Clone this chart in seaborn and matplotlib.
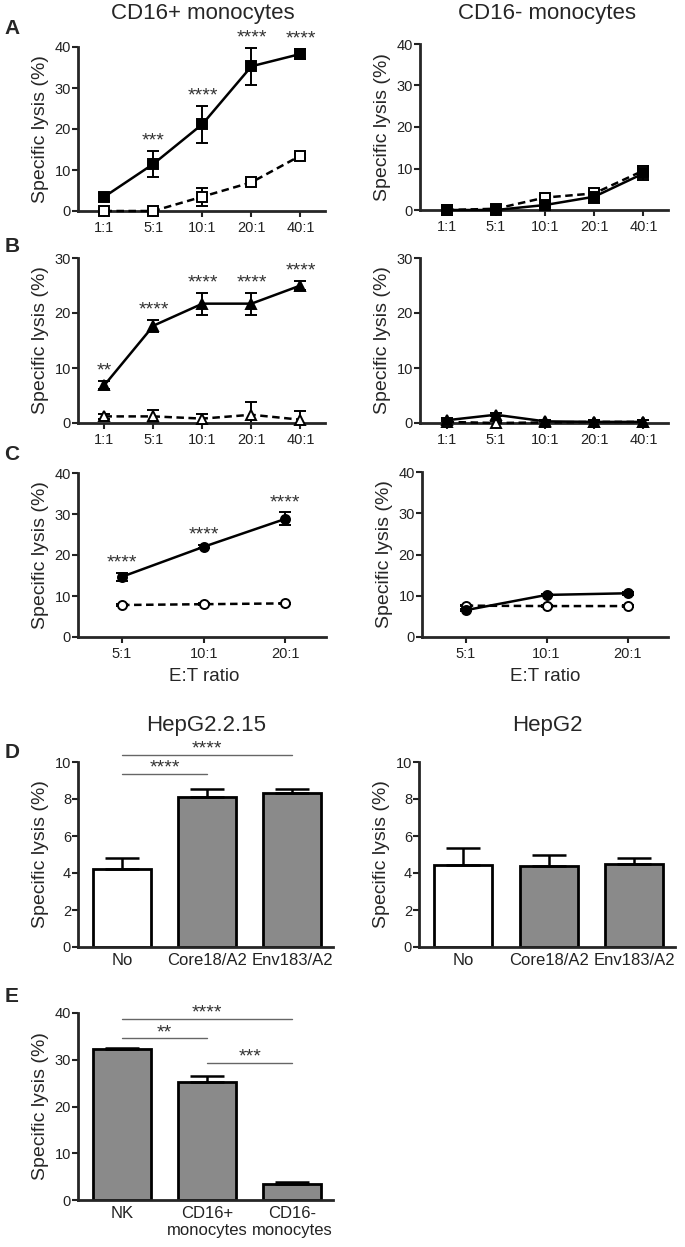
import numpy as np
import matplotlib
matplotlib.use("Agg")
import matplotlib.pyplot as plt
import seaborn as sns

# x categories
ratios_ab = ["1:1", "5:1", "10:1", "20:1", "40:1"]
ratios_c = ["5:1", "10:1", "20:1"]

# panel A (squares)
a_pos_mean = [3.5, 11.5, 21.2, 35.3, 38.3]
a_pos_err = [1.0, 3.2, 4.5, 4.5, 1.2]
a_pos_ctrl_mean = [0.0, 0.0, 3.5, 7.0, 13.5]
a_pos_ctrl_err = [0.3, 0.3, 2.2, 0.5, 0.5]
a_pos_stars = ["", "***", "****", "****", "****"]
a_neg_mean = [0.0, 0.0, 1.2, 3.2, 8.8]
a_neg_err = [0.5, 0.3, 0.5, 1.5, 1.5]
a_neg_ctrl_mean = [0.0, 0.3, 3.0, 4.0, 9.5]
a_neg_ctrl_err = [0.3, 0.3, 0.5, 0.8, 1.0]

# panel B (triangles)
b_pos_mean = [6.9, 17.7, 21.7, 21.7, 25.0]
b_pos_err = [0.8, 1.1, 2.0, 2.0, 0.8]
b_pos_ctrl_mean = [1.2, 1.2, 0.8, 1.5, 0.6]
b_pos_ctrl_err = [0.5, 1.1, 0.9, 2.3, 1.5]
b_pos_stars = ["**", "****", "****", "****", "****"]
b_neg_mean = [0.5, 1.5, 0.3, 0.2, 0.2]
b_neg_err = [0.4, 0.3, 0.3, 0.3, 0.3]
b_neg_ctrl_mean = [0.2, 0.0, 0.1, 0.2, 0.2]
b_neg_ctrl_err = [0.3, 0.3, 0.3, 0.3, 0.3]

# panel C (circles)
c_pos_mean = [14.7, 22.0, 28.8]
c_pos_err = [1.0, 0.4, 1.6]
c_pos_ctrl_mean = [7.8, 8.0, 8.2]
c_pos_ctrl_err = [0.2, 0.2, 0.2]
c_pos_stars = ["****", "****", "****"]
c_neg_mean = [6.5, 10.2, 10.6]
c_neg_err = [0.3, 0.3, 0.3]
c_neg_ctrl_mean = [7.6, 7.5, 7.5]
c_neg_ctrl_err = [0.2, 0.2, 0.2]

# panel D
peptides = ["No", "Core18/A2", "Env183/A2"]
d_hbv_mean = [4.2, 8.1, 8.35]
d_hbv_err = [0.6, 0.45, 0.2]
d_hbv_comps = [(0, 1, 9.35, "****"), (0, 2, 10.4, "****")]
d_ctrl_mean = [4.45, 4.4, 4.5]
d_ctrl_err = [0.9, 0.6, 0.3]

# panel E
effectors = ["NK", "CD16+\nmonocytes", "CD16-\nmonocytes"]
e_mean = [32.3, 25.3, 3.5]
e_err = [0.3, 1.2, 0.4]
e_comps = [(0, 2, 38.7, "****"), (0, 1, 34.6, "**"), (1, 2, 29.3, "***")]

GRAY = "#8a8a8a"
W, H = 685, 1247

sns.set_style("ticks")
plt.rcParams["font.family"] = ["Liberation Sans", "DejaVu Sans"]

fig = plt.figure(figsize=(W / 100, H / 100), dpi=100)


def add_ax(l, t, r, b):
    return fig.add_axes([l / W, 1 - b / H, (r - l) / W, (b - t) / H])


def style_ax(ax, ymax, yticks, xticks=True):
    sns.despine(ax=ax)
    for s in ["left", "bottom"]:
        ax.spines[s].set_linewidth(2)
    ax.set_ylim(0, ymax)
    ax.set_yticks(yticks)
    ax.tick_params(axis="y", length=4, width=1.5, pad=1, labelsize=10.5, colors="#222")
    ax.tick_params(axis="x", length=4 if xticks else 0, width=1.5, pad=3, colors="#222")
    ax.set_ylabel("Specific lysis (%)", fontsize=14, labelpad=4)
    ax.set_xlabel("")


def line_panel(ax, labels, main, main_err, ctrl, ctrl_err, marker, ymax, yticks, stars=None):
    x = np.arange(len(labels))
    for m, e, filled, ls in [(ctrl, ctrl_err, False, (0, (3, 1.8))), (main, main_err, True, "-")]:
        ax.errorbar(x, m, yerr=e, fmt="none", ecolor="black", elinewidth=1.4,
                    capsize=4.5, capthick=1.4, zorder=2)
        sns.lineplot(x=x, y=m, ax=ax, color="black", lw=1.8, linestyle=ls, marker=marker,
                     markersize=6.5, markerfacecolor="black" if filled else "white",
                     markeredgecolor="black", markeredgewidth=1.4, clip_on=False,
                     zorder=3, errorbar=None)
    if stars:
        for i, s in enumerate(stars):
            if s:
                ax.annotate(s, (x[i], main[i] + main_err[i]), xytext=(0, 1),
                            textcoords="offset points", ha="center", va="bottom",
                            fontsize=14, color="#333")
    ax.set_xticks(x)
    ax.set_xticklabels(labels, fontsize=10.5)
    ax.set_xlim(-0.54, len(labels) - 0.5)
    style_ax(ax, ymax, yticks)


def bar_panel(ax, cats, vals, errs, ymax, yticks, comps=None):
    colors = {c: ("white" if i == 0 and cats is peptides else GRAY) for i, c in enumerate(cats)}
    sns.barplot(x=cats, y=vals, hue=cats, order=cats, hue_order=cats, palette=colors,
                legend=False, width=0.68, saturation=1, edgecolor="black", linewidth=2,
                errorbar=None, ax=ax)
    ax.errorbar(np.arange(len(cats)), vals, yerr=[np.zeros(len(vals)), errs], fmt="none",
                ecolor="black", elinewidth=1.8, capsize=12, capthick=1.8, zorder=1)
    if comps:
        for i, j, y, s in comps:
            ax.plot([i, j], [y, y], color="#666", lw=1, clip_on=False)
            ax.annotate(s, ((i + j) / 2, y), xytext=(0, -2), textcoords="offset points",
                        ha="center", va="bottom", fontsize=14, color="#333",
                        annotation_clip=False)
    ax.set_xlim(-0.52, len(cats) - 0.52)
    style_ax(ax, ymax, yticks, xticks=False)
    ax.tick_params(axis="x", labelsize=12, pad=4)


ax = add_ax(78, 47, 325, 211)
line_panel(ax, ratios_ab, a_pos_mean, a_pos_err, a_pos_ctrl_mean, a_pos_ctrl_err, "s", 40,
           [0, 10, 20, 30, 40], a_pos_stars)
ax = add_ax(420, 44, 668, 210)
line_panel(ax, ratios_ab, a_neg_mean, a_neg_err, a_neg_ctrl_mean, a_neg_ctrl_err, "s", 40,
           [0, 10, 20, 30, 40])

ax = add_ax(78, 258, 325, 423)
line_panel(ax, ratios_ab, b_pos_mean, b_pos_err, b_pos_ctrl_mean, b_pos_ctrl_err, "^", 30,
           [0, 10, 20, 30], b_pos_stars)
ax = add_ax(420, 258, 668, 423)
line_panel(ax, ratios_ab, b_neg_mean, b_neg_err, b_neg_ctrl_mean, b_neg_ctrl_err, "^", 30,
           [0, 10, 20, 30])

ax = add_ax(78, 473, 326, 637)
line_panel(ax, ratios_c, c_pos_mean, c_pos_err, c_pos_ctrl_mean, c_pos_ctrl_err, "o", 40,
           [0, 10, 20, 30, 40], c_pos_stars)
ax = add_ax(422, 472, 668, 637)
line_panel(ax, ratios_c, c_neg_mean, c_neg_err, c_neg_ctrl_mean, c_neg_ctrl_err, "o", 40,
           [0, 10, 20, 30, 40])

ax = add_ax(78, 762, 333, 947)
bar_panel(ax, peptides, d_hbv_mean, d_hbv_err, 10, [0, 2, 4, 6, 8, 10], d_hbv_comps)
ax = add_ax(419, 762, 675, 947)
bar_panel(ax, peptides, d_ctrl_mean, d_ctrl_err, 10, [0, 2, 4, 6, 8, 10])

ax = add_ax(78, 1013, 333, 1200)
bar_panel(ax, effectors, e_mean, e_err, 40, [0, 10, 20, 30, 40], e_comps)


def ftext(x, y, s, **kw):
    fig.text(x / W, 1 - y / H, s, ha="center", va="center", **kw)


ftext(203, 14, "CD16+ monocytes", fontsize=16)
ftext(547, 14, "CD16- monocytes", fontsize=16)
ftext(206, 725, "HepG2.2.15", fontsize=16)
ftext(547, 725, "HepG2", fontsize=16)
ftext(204, 676, "E:T ratio", fontsize=13.5)
ftext(545, 676, "E:T ratio", fontsize=13.5)
for letter, y in [("A", 28), ("B", 247), ("C", 455), ("D", 753), ("E", 997)]:
    ftext(12, y, letter, fontsize=15, fontweight="bold")

fig.savefig("out.png", dpi=100)
